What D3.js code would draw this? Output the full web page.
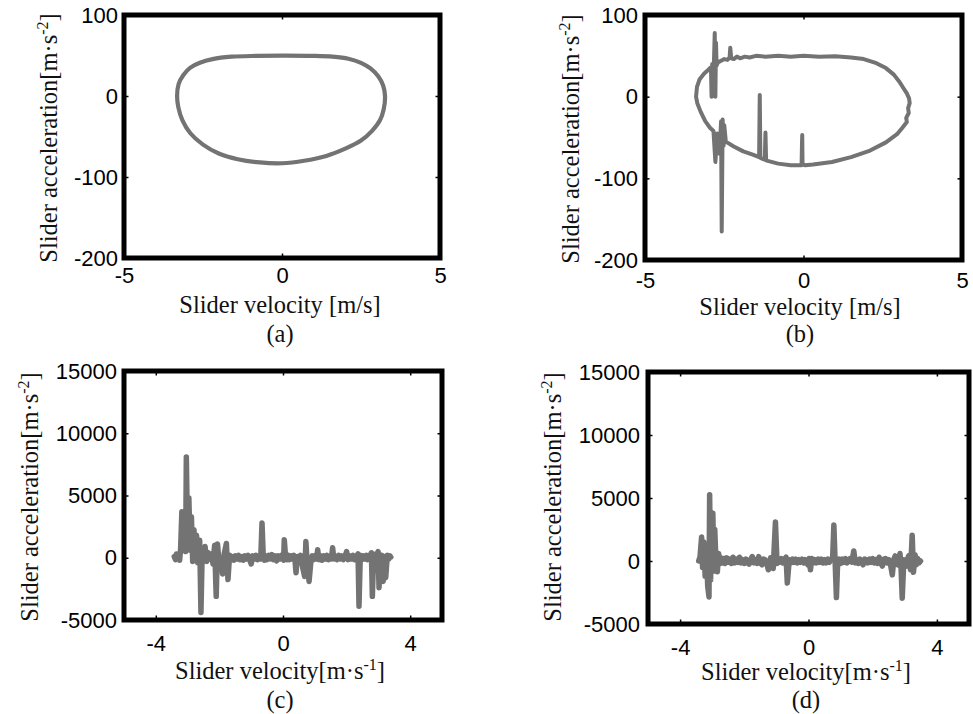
<!DOCTYPE html>
<html>
<head>
<meta charset="utf-8">
<script src="https://cdn.jsdelivr.net/npm/d3@7"></script>
<style>
  body { margin: 0; background: #fff; }
  svg { display: block; }
</style>
</head>
<body>
<svg id="chart" width="973" height="714"></svg>
<script>
// ---- Phase portraits: slider velocity vs slider acceleration ----

// (a) ideal mechanism: closed loop [velocity m/s, acceleration m/s^2]
const phaseA = [
  [-3.32, 0], [-3.27, 15], [-3.12, 26], [-2.9, 35], [-2.6, 41], [-2.2, 45.5],
  [-1.6, 48.5], [-0.8, 49.5], [0, 49.8], [1.0, 49.5], [1.6, 48.5], [2.1, 46],
  [2.5, 41], [2.8, 34], [3.05, 24], [3.2, 13], [3.26, 0], [3.22, -16],
  [3.1, -30], [2.85, -43], [2.5, -55], [2.0, -65], [1.4, -74], [0.7, -80],
  [0, -83], [-0.7, -82], [-1.4, -78], [-2.0, -71], [-2.5, -60], [-2.9, -46],
  [-3.15, -30], [-3.28, -14]
];

// (b) mechanism with clearance: loop with impact spikes
const phaseB = [
  [-3.39, 0], [-3.36, 12], [-3.28, 21], [-3.14, 28], [-3.0, 33], [-2.92, 36], [-2.9, 0],
  [-2.88, 40], [-2.84, 22], [-2.8, 78], [-2.78, 0], [-2.76, 66], [-2.74, 38],
  [-2.7, 42], [-2.6, 44], [-2.5, 46], [-2.4, 45], [-2.33, 48], [-2.31, 60],
  [-2.28, 47], [-2.2, 46], [-2.1, 49], [-2.0, 47], [-1.85, 49], [-1.7, 48],
  [-1.5, 50], [-1.2, 49], [-0.8, 50], [-0.4, 49], [0, 50], [0.5, 49],
  [1.0, 49.5], [1.5, 48], [1.9, 46], [2.3, 41], [2.6, 35], [2.85, 27],
  [3.03, 18], [3.16, 10], [3.26, 4], [3.33, -2], [3.35, -8], [3.3, -14],
  [3.32, -20], [3.24, -26], [3.26, -31], [3.12, -38], [2.95, -46], [2.6, -56],
  [2.1, -66], [1.5, -74], [0.9, -80], [0.3, -83], [0.05, -84], [-0.03, -83],
  [-0.04, -47], [-0.05, -62], [-0.06, -84], [-0.4, -84], [-0.8, -82], [-1.1, -79],
  [-1.18, -78], [-1.2, -44], [-1.22, -77], [-1.3, -76], [-1.36, -75], [-1.38, 2],
  [-1.4, -74], [-1.6, -71], [-1.9, -67], [-2.2, -61], [-2.45, -55], [-2.5, -35],
  [-2.52, -60], [-2.55, -28], [-2.58, -165], [-2.6, -30], [-2.65, -70], [-2.72, -45],
  [-2.78, -80], [-2.84, -42], [-2.95, -38], [-3.1, -30], [-3.25, -18], [-3.35, -8],
  [-3.39, 0]
];

// (c) measured response, case 1
const phaseC = [
  [-3.42, 100], [-3.38, -150], [-3.35, 300], [-3.31, -100], [-3.28, 250], [-3.25, -200],
  [-3.22, 700], [-3.18, 3700], [-3.14, 1200], [-3.1, 2800], [-3.06, 500], [-3.04, 8100],
  [-3.0, 1500], [-2.96, 4800], [-2.92, 600], [-2.88, 3300], [-2.84, -300], [-2.8, 2250],
  [-2.76, 200], [-2.72, 1800], [-2.68, -400], [-2.62, 1400], [-2.58, -4400], [-2.54, 600],
  [-2.5, -200], [-2.45, 900], [-2.4, -300], [-2.35, 400], [-2.3, -100], [-2.25, 300],
  [-2.2, -500], [-2.15, 1000], [-2.1, -3100], [-2.06, 1100], [-2.0, -700], [-1.95, -200],
  [-1.9, -1300], [-1.85, 300], [-1.78, 1150], [-1.73, -1750], [-1.68, 200], [-1.64, -150],
  [-1.6, 100], [-1.55, -200], [-1.5, 150], [-1.45, -100], [-1.4, 200], [-1.35, -150],
  [-1.3, 100], [-1.25, -200], [-1.2, 150], [-1.15, -100], [-1.1, 200], [-1.05, -150],
  [-1.0, -500], [-0.95, 150], [-0.9, -100], [-0.85, 200], [-0.8, -150], [-0.75, 150],
  [-0.7, -100], [-0.66, 2800], [-0.62, 100], [-0.58, -200], [-0.54, 150], [-0.5, -150],
  [-0.45, 200], [-0.4, -100], [-0.35, 250], [-0.3, -150], [-0.25, 150], [-0.2, -250],
  [-0.15, 150], [-0.1, -100], [-0.05, 200], [0.02, -200], [0.04, 1450], [0.08, 100],
  [0.12, -150], [0.16, 200], [0.2, -150], [0.25, 150], [0.3, -100], [0.34, 200],
  [0.38, -300], [0.41, -1200], [0.45, 100], [0.5, -200], [0.55, 200], [0.62, -800],
  [0.68, -1500], [0.72, 1300], [0.76, -500], [0.82, -1900], [0.88, -200], [0.92, 150],
  [0.96, -150], [1.02, 200], [1.06, -100], [1.09, 650], [1.13, -150], [1.18, 150],
  [1.23, -200], [1.28, 150], [1.33, -100], [1.38, 200], [1.43, -150], [1.48, 100],
  [1.52, -100], [1.56, 800], [1.6, -100], [1.65, 150], [1.7, -150], [1.75, 200],
  [1.8, -100], [1.85, 150], [1.9, -150], [1.95, 100], [2.0, 500], [2.05, -150],
  [2.1, 150], [2.15, -100], [2.2, 200], [2.25, -150], [2.3, 100], [2.36, 300],
  [2.39, -3900], [2.43, 200], [2.48, -150], [2.52, 150], [2.57, -100], [2.62, 200],
  [2.66, -150], [2.72, 100], [2.78, 400], [2.81, -3100], [2.85, 300], [2.9, -1000],
  [2.95, 200], [2.99, 500], [3.02, -2400], [3.06, -300], [3.1, 200], [3.15, -1900],
  [3.2, 100], [3.23, -1600], [3.28, 200], [3.33, -100], [3.36, 150], [3.39, 50]
];

// (d) measured response, case 2
const phaseD = [
  [-3.42, 0], [-3.38, 300], [-3.33, 1900], [-3.3, -500], [-3.26, 1500], [-3.22, -1200],
  [-3.18, 800], [-3.14, -2000], [-3.1, -2850], [-3.08, 5250], [-3.05, -1500], [-3.02, 3000],
  [-2.98, 3800], [-2.95, -800], [-2.92, 2500], [-2.88, -300], [-2.84, -850], [-2.8, 600],
  [-2.76, -200], [-2.72, 250], [-2.68, -150], [-2.64, 200], [-2.6, -200], [-2.55, 250],
  [-2.5, -100], [-2.45, 150], [-2.4, -200], [-2.35, 300], [-2.3, -150], [-2.25, 150],
  [-2.2, -100], [-2.15, 300], [-2.1, -150], [-2.05, 100], [-2.0, -200], [-1.95, 150],
  [-1.9, -100], [-1.85, -250], [-1.8, 150], [-1.75, 350], [-1.7, -150], [-1.65, 100],
  [-1.6, -200], [-1.55, 350], [-1.5, -150], [-1.45, -300], [-1.4, 150], [-1.35, 100],
  [-1.3, -200], [-1.25, -700], [-1.18, 250], [-1.1, -600], [-1.03, 3100], [-0.98, -200],
  [-0.94, 150], [-0.9, -100], [-0.85, 200], [-0.8, -150], [-0.75, 150], [-0.7, 300],
  [-0.66, -1750], [-0.6, 100], [-0.55, -150], [-0.5, 150], [-0.45, -100], [-0.4, 150],
  [-0.35, -150], [-0.3, 100], [-0.25, -100], [-0.2, 150], [-0.15, -150], [-0.1, 100],
  [-0.05, -150], [-0.02, -300], [0.02, 200], [0.06, -700], [0.1, 200], [0.15, -150],
  [0.2, 100], [0.25, -150], [0.3, 150], [0.35, -100], [0.4, 150], [0.45, -150],
  [0.5, 100], [0.55, -150], [0.6, 150], [0.65, -100], [0.7, 150], [0.75, 100],
  [0.79, 2850], [0.83, -100], [0.87, -2900], [0.91, 50], [0.95, 150], [1.0, -200],
  [1.05, 150], [1.1, -100], [1.15, 200], [1.2, -150], [1.25, 100], [1.3, 200],
  [1.35, -100], [1.41, 800], [1.46, -150], [1.5, 100], [1.55, -200], [1.6, 150],
  [1.65, -100], [1.7, -300], [1.75, 150], [1.8, 100], [1.85, -150], [1.9, 150],
  [1.95, -100], [2.0, 200], [2.05, -150], [2.1, 100], [2.15, -200], [2.2, 300],
  [2.25, -150], [2.3, -400], [2.35, 150], [2.4, 200], [2.45, -150], [2.5, 100],
  [2.55, -200], [2.61, -1100], [2.66, 150], [2.7, 400], [2.74, -150], [2.78, -300],
  [2.82, 200], [2.85, 600], [2.88, -300], [2.92, -2950], [2.97, 100], [3.01, -200],
  [3.05, -400], [3.09, 200], [3.12, 400], [3.15, -300], [3.18, -700], [3.23, 2050],
  [3.27, -900], [3.32, 500], [3.36, -300], [3.4, 200], [3.44, -150], [3.49, 0]
];

// Axis domains and ticks
const velDomain = [-5, 5];
const accDomainTop = [-200, 100];
const accDomainBottom = [-5000, 15000];
const velTicksTop = [-5, 0, 5];
const velTicksBottom = [-4, 0, 4];
const accTicksTop = [-200, -100, 0, 100];
const accTicksBottom = [-5000, 0, 5000, 10000, 15000];

// Labels
const xTitleTop = { main: "Slider velocity [m/s]", sup: null };
const xTitleBottom = { main: "Slider velocity[m\u00B7s", sup: "-1" };
const yTitle = { main: "Slider acceleration[m\u00B7s", sup: "-2" };
const captions = ["(a)", "(b)", "(c)", "(d)"];

// ---- layout ----
const panels = [
  { data: phaseA, closed: true, yDom: accDomainTop, xt: velTicksTop, yt: accTicksTop,
    L: 124, R: 440, T: 15, B: 258, sw: 4.2, xPad: 9, yPad: 6, xTitle: xTitleTop,
    xtx: 280, xty: 313, cy: 342, ytx: 57, yty: 138 },
  { data: phaseB, closed: false, yDom: accDomainTop, xt: velTicksTop, yt: accTicksTop,
    L: 645, R: 962, T: 15, B: 260, sw: 4, xPad: 12, yPad: 7, xTitle: xTitleTop,
    xtx: 800, xty: 315, cy: 342, ytx: 579, yty: 139 },
  { data: phaseC, closed: false, yDom: accDomainBottom, xt: velTicksBottom, yt: accTicksBottom,
    L: 124, R: 442, T: 371, B: 620, sw: 5.5, xPad: 15, yPad: 7, xTitle: xTitleBottom,
    xtx: 280, xty: 679, cy: 708, ytx: 38, yty: 497 },
  { data: phaseD, closed: false, yDom: accDomainBottom, xt: velTicksBottom, yt: accTicksBottom,
    L: 648, R: 969, T: 372, B: 624, sw: 5.5, xPad: 15, yPad: 8, xTitle: xTitleBottom,
    xtx: 806, xty: 680, cy: 708, ytx: 561, yty: 497 }
];

const svg = d3.select("#chart");
const LINE = "#737373";
const SERIF = "'Liberation Serif', 'Times New Roman', serif";
const SANS = "'Liberation Sans', Arial, Helvetica, sans-serif";

function addTitle(g, spec) {
  const t = g.append("text")
    .attr("font-family", SERIF).attr("font-size", 24.5)
    .attr("fill", "#111").attr("text-anchor", "middle");
  t.append("tspan").text(spec.main);
  if (spec.sup) {
    t.append("tspan").attr("font-size", 16).attr("dy", -9).text(spec.sup);
    t.append("tspan").attr("dy", 9).text("]");
  }
  return t;
}

panels.forEach((p, i) => {
  const x = d3.scaleLinear().domain(velDomain).range([p.L, p.R]);
  const y = d3.scaleLinear().domain(p.yDom).range([p.B, p.T]);
  const g = svg.append("g");

  // trajectory
  const line = d3.line().x(d => x(d[0])).y(d => y(d[1]))
    .curve(p.closed ? d3.curveCatmullRomClosed : d3.curveLinear);
  g.append("path").datum(p.data)
    .attr("d", line)
    .attr("fill", "none")
    .attr("stroke", LINE)
    .attr("stroke-width", p.sw)
    .attr("stroke-linejoin", "round")
    .attr("stroke-linecap", "round");

  const fmt = d => String(d);

  // tick labels
  const xa = g.append("g").attr("transform", `translate(0,${p.B})`)
    .call(d3.axisBottom(x).tickValues(p.xt).tickFormat(fmt).tickSize(0).tickPadding(p.xPad));
  const ya = g.append("g").attr("transform", `translate(${p.L},0)`)
    .call(d3.axisLeft(y).tickValues(p.yt).tickFormat(fmt).tickSize(0).tickPadding(p.yPad));
  [xa, ya].forEach(a => {
    a.select(".domain").remove();
    a.selectAll("text").attr("font-family", SANS).attr("font-size", 22).attr("fill", "#000");
  });

  // small inward ticks on all four sides
  const tickLen = -4.5;
  const axes = [
    [d3.axisBottom(x).tickValues(p.xt), `translate(0,${p.B})`],
    [d3.axisTop(x).tickValues(p.xt), `translate(0,${p.T})`],
    [d3.axisLeft(y).tickValues(p.yt), `translate(${p.L},0)`],
    [d3.axisRight(y).tickValues(p.yt), `translate(${p.R},0)`]
  ];
  axes.forEach(([ax, tr]) => {
    const a = g.append("g").attr("transform", tr)
      .call(ax.tickSize(tickLen).tickFormat(""));
    a.select(".domain").remove();
    a.selectAll("line").attr("stroke", "#000").attr("stroke-width", 1.5);
  });

  // frame
  g.append("rect")
    .attr("x", p.L).attr("y", p.T)
    .attr("width", p.R - p.L).attr("height", p.B - p.T)
    .attr("fill", "none").attr("stroke", "#000").attr("stroke-width", 5);

  // axis titles
  addTitle(g, p.xTitle).attr("x", p.xtx).attr("y", p.xty);
  addTitle(g, yTitle).attr("transform", `translate(${p.ytx},${p.yty}) rotate(-90)`);
  g.append("text")
    .attr("x", p.xtx).attr("y", p.cy)
    .attr("text-anchor", "middle")
    .attr("font-family", SERIF).attr("font-size", 24.5).attr("fill", "#111")
    .text(captions[i]);
});
</script>
</body>
</html>
